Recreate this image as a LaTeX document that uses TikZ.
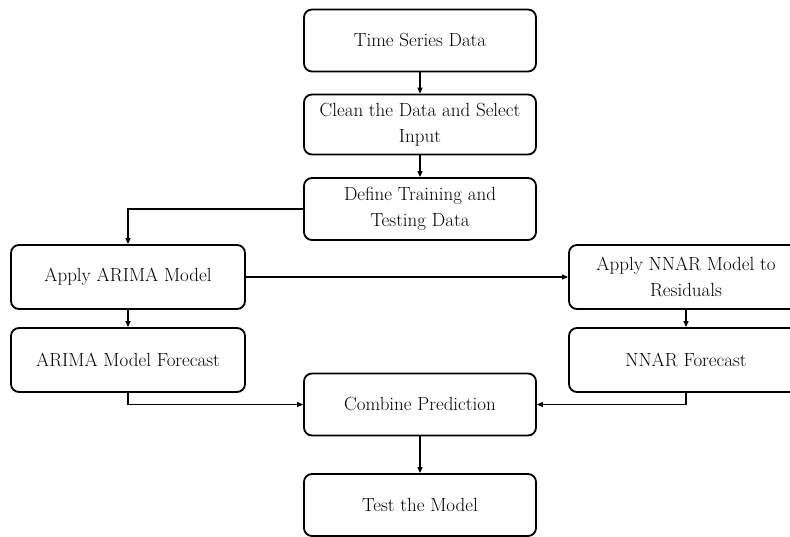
\documentclass[tikz,border=0pt]{standalone}
\usetikzlibrary{arrows.meta}
\begin{document}
\begin{tikzpicture}[x=1pt,y=-1pt,
  box/.style={draw, rounded corners=8pt, line width=1.8pt, minimum width=232pt,
    minimum height=62pt, align=center, inner sep=2pt,
    font=\fontsize{19}{26}\selectfont},
  conn/.style={line width=1.1pt, -{Triangle[length=6pt,width=5pt]}}]
\useasboundingbox (0,0) rectangle (790,536);
\clip (0,0) rectangle (790,536);
% centre column
\node[box] (ts) at (420,40.5) {Time Series Data};
\node[box, minimum height=60pt] (clean) at (420,124.5) {Clean the Data and Select\\Input};
\node[box] (define) at (420,209) {Define Training and\\Testing Data};
% left branch
\node[box, minimum width=234pt, minimum height=64pt] (arima) at (128,277) {Apply ARIMA Model};
\node[box, minimum width=234pt, minimum height=64pt] (arimaf) at (128,360) {ARIMA Model Forecast};
% right branch
\node[box, minimum width=234pt, minimum height=64pt] (nnar) at (686,277) {Apply NNAR Model to\\Residuals};
\node[box, minimum width=234pt, minimum height=64pt] (nnarf) at (686,360) {NNAR Forecast};
% merge and test
\node[box] (comb) at (420,404.5) {Combine Prediction};
\node[box] (test) at (420,505) {Test the Model};
% connectors
\draw[conn] (ts) -- (clean);
\draw[conn] (clean) -- (define);
\draw[conn] (define.west) -| (arima.north);
\draw[conn] (arima.east) -- (nnar.west);
\draw[conn] (arima) -- (arimaf);
\draw[conn] (nnar) -- (nnarf);
\draw[conn] (arimaf.south) |- (comb.west);
\draw[conn] (nnarf.south) |- (comb.east);
\draw[conn] (comb) -- (test);
\end{tikzpicture}
\end{document}
